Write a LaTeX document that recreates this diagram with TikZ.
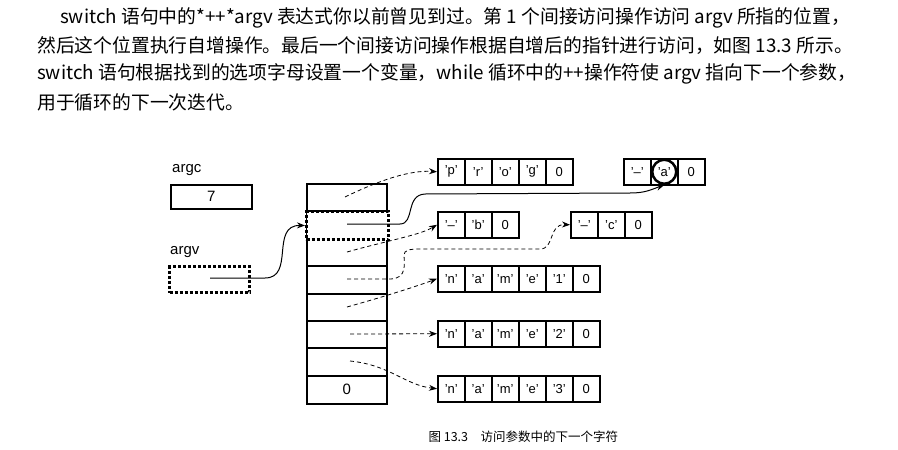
\documentclass[tikz,border=0pt]{standalone}
\usepackage{fontspec}
\setmainfont{Liberation Sans}
\newfontfamily\cjk{Noto Sans CJK SC}
\usetikzlibrary{arrows.meta}
\begin{document}
\begin{tikzpicture}[x=1pt,y=-1pt,
  cell/.style={draw,line width=1.5pt,minimum width=27pt,minimum height=26pt,inner sep=0pt,font=\fontsize{13}{13}\selectfont,anchor=north west},
  dptr/.style={dashed,dash pattern=on 4pt off 3pt,-{Stealth[length=8pt,width=6pt]},line width=0.8pt},
  sptr/.style={-{Stealth[length=8pt,width=6pt]},line width=1pt},
  para/.style={anchor=west,font=\cjk\fontsize{18.8}{18.8}\selectfont,inner sep=0pt},
  lbl/.style={anchor=west,font=\fontsize{15}{15}\selectfont,inner sep=0pt}]
\useasboundingbox[fill=white] (0,0) rectangle (898,450);
\node[para] (p1) at (60,18) {switch 语句中的*++*argv 表达式你以前曾见到过。第 1 个间接访问操作访问 argv 所指的位置，};
\node[para] (p2) at (37,46) {然后这个位置执行自增操作。最后一个间接访问操作根据自增后的指针进行访问，如图 13.3 所示。};
\node[para] (p3) at (37,74) {switch 语句根据找到的选项字母设置一个变量，while 循环中的++操作符使 argv 指向下一个参数，};
\node[para] (p4) at (37,102) {用于循环的下一次迭代。};
\node[anchor=west,font=\cjk\fontsize{12.5}{12.5}\selectfont] (cap) at (425,437) {图 13.3\quad 访问参数中的下一个字符};
% argc / argv
\node[lbl] (argcl) at (172,170) {argc};
\node[cell,minimum width=81pt,minimum height=24pt,font=\fontsize{15}{15}\selectfont] (argc) at (170,184) {7};
\node[lbl] (argvl) at (170,252) {argv};
\node[draw,dotted,line width=3pt,minimum width=80pt,minimum height=26pt,anchor=north west] (argv) at (168,265) {};
% array
\foreach \i/\t in {1/183,2/210,3/238,4/265,5/293,6/320,7/347}{
  \node[cell,minimum width=80pt,minimum height=27.5pt] (a\i) at (306,\t) {};}
\node[cell,minimum width=80pt,minimum height=28pt,font=\fontsize{15}{15}\selectfont] (a8) at (306,375) {0};
\node[draw,dotted,line width=3pt,minimum width=82pt,minimum height=28pt,anchor=north west,fill=white] (sel) at (305,210) {};
% strings
\newcommand{\strrow}[4]{\foreach \c [count=\k from 0] in {#4}{\node[cell] (#1\k) at (#2+27*\k,#3) {\c};}}
\strrow{pg}{437}{158}{'p','r','o','g',0}
\strrow{sa}{623}{158}{'--',{},0}
\node[draw,circle,minimum size=24pt,inner sep=0pt,line width=2.5pt,font=\fontsize{13}{13}\selectfont] (sac) at (sa1.center) {'a'};
\strrow{sb}{437}{211}{'--','b',0}
\strrow{sc}{570}{211}{'--','c',0}
\strrow{na}{437}{265}{'n','a','m','e','1',0}
\strrow{nb}{437}{320}{'n','a','m','e','2',0}
\strrow{nc}{437}{375}{'n','a','m','e','3',0}
% pointers
\coordinate (s1) at (345,197);
\coordinate (s2) at (347,224);
\coordinate (s3) at (347,252);
\coordinate (s4) at (347,279);
\coordinate (s5) at (347,307);
\coordinate (s6) at (350,334);
\coordinate (s7) at (350,361);
\coordinate (sv) at (210,278);
\draw[sptr] (sv) -- (265,278) .. controls (295,278) and (270,225) .. (sel.west);
\draw[dptr] (s1) .. controls (380,180) and (410,170) .. (pg0.west);
\draw[sptr] (s2) -- (400,224) .. controls (415,224) and (405,195) .. (425,194) -- (630,193) .. controls (645,193) and (650,190) .. (sac.south);
\draw[dptr] (s3) .. controls (390,240) and (420,235) .. (sb0.west);
\draw[dptr] (s4) -- (390,279) .. controls (408,279) and (404,262) .. (404,255) .. controls (404,250) and (410,249) .. (420,249) -- (540,249) .. controls (555,249) and (548,224) .. (sc0.west);
\draw[dptr] (s5) .. controls (390,295) and (420,285) .. (na0.west);
\draw[dptr] (s6) -- (nb0.west);
\draw[dptr] (s7) .. controls (390,365) and (405,385) .. (nc0.west);
\end{tikzpicture}
\end{document}
